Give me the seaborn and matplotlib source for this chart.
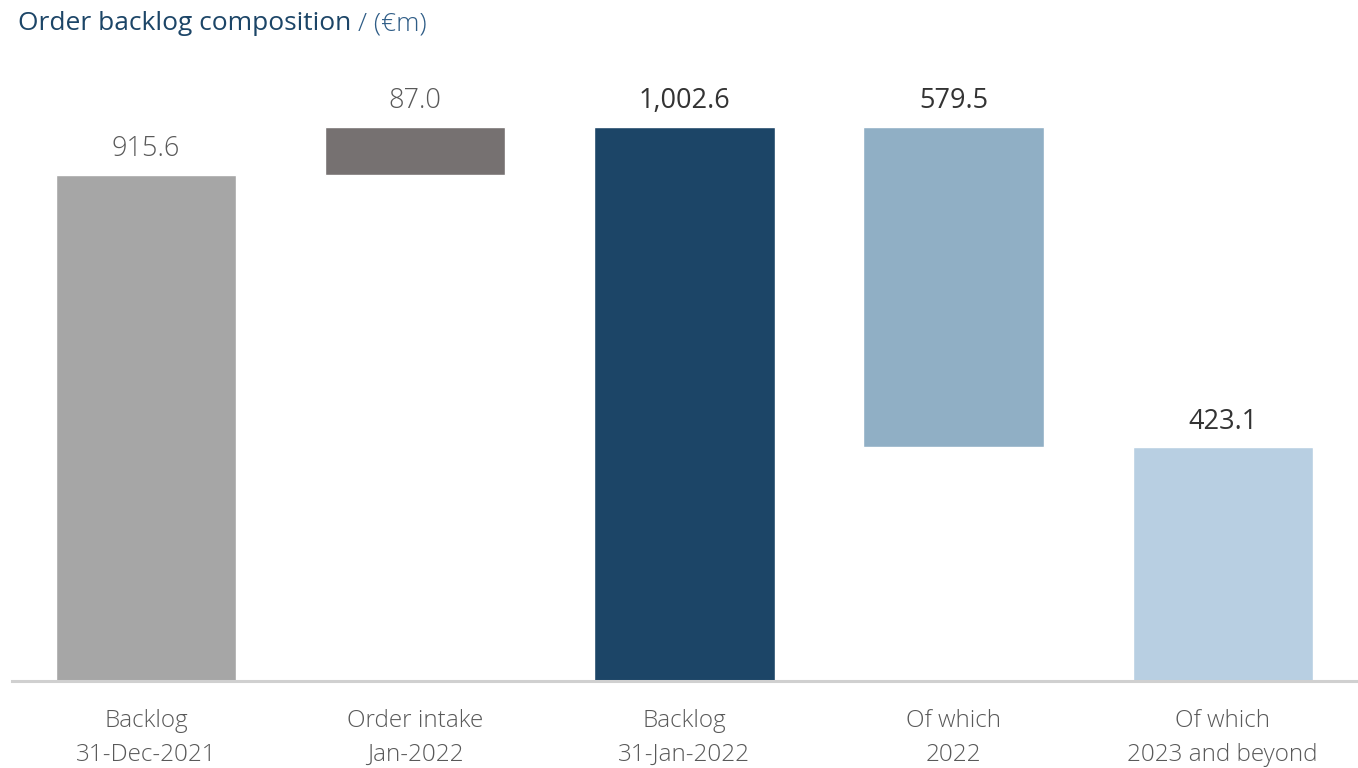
import pandas as pd
import matplotlib.pyplot as plt
import seaborn as sns

# Waterfall data (EUR m)
categories = ['Backlog\n31-Dec-2021', 'Order intake\nJan-2022', 'Backlog\n31-Jan-2022',
              'Of which\n2022', 'Of which\n2023 and beyond']
values = [915.6, 87.0, 1002.6, 579.5, 423.1]
bases = [0, 915.6, 0, 423.1, 0]
labels = ['915.6', '87.0', '1,002.6', '579.5', '423.1']
colors = ['#A6A6A6', '#767171', '#1C4567', '#90AFC5', '#B8CFE2']
label_colors = ['#595959', '#595959', '#333333', '#333333', '#333333']
label_weights = ['light', 'light', 'normal', 'normal', 'normal']

df = pd.DataFrame({'Category': categories, 'Value': values, 'Base': bases})

sns.set_style('white')
plt.rcParams['font.family'] = ['Open Sans', 'DejaVu Sans']

fig = plt.figure(figsize=(13.58, 7.68), dpi=100)
ax = fig.add_axes([0.0085, 0.1133, 0.991, 0.8086])

sns.barplot(data=df, x='Category', y='Value', hue='Category', palette=colors,
            legend=False, width=0.67, ax=ax, saturation=1)

# shift floating bars up to their base
for patch, base in zip(ax.patches, df['Base']):
    patch.set_y(base)

for i, (v, b, lab, c, w) in enumerate(zip(values, bases, labels, label_colors, label_weights)):
    ax.annotate(lab, xy=(i, v + b), xytext=(0, 18.5), textcoords='offset points',
                ha='center', va='center', fontsize=19.5, color=c, fontweight=w)

ax.set_xlim(-0.5, 4.5)
ax.set_ylim(0, 1124)
ax.set_xlabel('')
ax.set_ylabel('')
ax.set_yticks([])
ax.tick_params(axis='x', length=0, pad=20, labelsize=17.5, labelcolor='#595959')
for lbl in ax.get_xticklabels():
    lbl.set_fontweight('light')
    lbl.set_linespacing(1.58)
for side in ['top', 'left', 'right']:
    ax.spines[side].set_visible(False)
ax.spines['bottom'].set_color('#D0D0D0')
ax.spines['bottom'].set_linewidth(2.2)

t1 = fig.text(0.013, 0.969, 'Order backlog composition', fontsize=19, color='#1C4567',
              ha='left', va='center')
fig.canvas.draw()
bb = t1.get_window_extent().transformed(fig.transFigure.inverted())
fig.text(bb.x1 + 0.005, 0.969, '/ (€m)', fontsize=19, color='#2E5C86',
         ha='left', va='center', fontweight='light')

plt.savefig('out.png', dpi=100)
plt.close()
